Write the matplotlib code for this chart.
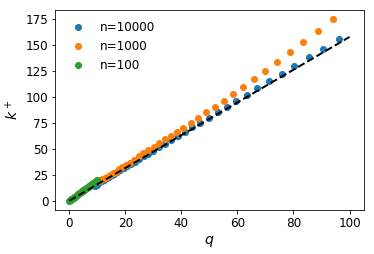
import matplotlib
matplotlib.use('Agg')
import matplotlib.pyplot as plt
import numpy as np

# data
q_10000 = [9.1, 9.7, 10.3, 11.0, 11.7, 12.5, 13.3, 14.2, 15.1, 16.0, 17.1, 18.2, 19.4, 20.6,
           22.0, 23.4, 24.9, 26.5, 28.2, 30.0, 32.0, 34.1, 36.3, 38.7, 41.2, 43.9, 46.7, 49.8,
           52.9, 56.2, 59.6, 63.3, 67.1, 71.3, 75.8, 80.3, 85.4, 90.6, 96.3]
k_10000 = [14.6, 15.6, 16.6, 17.7, 18.8, 20.1, 21.4, 22.9, 24.3, 25.8, 27.5, 29.3, 31.2, 33.2,
           35.4, 37.7, 40.1, 42.7, 45.4, 48.3, 51.5, 54.9, 58.4, 62.3, 66.3, 70.7, 75.3, 80.1,
           85.3, 90.4, 96.2, 101.9, 108.3, 115.1, 122.1, 129.8, 138.1, 146.5, 155.5]

q_1000 = [11.0, 11.8, 12.6, 13.5, 14.4, 15.4, 16.5, 17.7, 18.9, 20.2, 21.6, 23.1, 24.8, 26.4,
          28.2, 30.2, 32.1, 34.0, 36.2, 38.3, 40.7, 43.3, 46.0, 48.9, 52.0, 55.1, 58.5, 62.0,
          65.8, 69.9, 74.1, 78.8, 83.5, 88.7, 94.2]
k_1000 = [19.3, 20.6, 21.8, 23.2, 24.6, 26.3, 28.1, 30.1, 32.1, 34.3, 36.7, 39.4, 42.6, 45.8,
          49.0, 52.2, 55.8, 59.0, 62.5, 66.0, 70.2, 74.8, 79.5, 85.0, 90.7, 96.4, 102.6, 109.6,
          117.0, 125.0, 133.7, 143.0, 152.6, 163.5, 175.0]

q_100 = [0.0, 0.25, 0.5, 0.75, 1.0, 1.25, 1.5, 1.75, 2.0, 2.25, 2.5, 2.75, 3.0, 3.25, 3.5,
         3.75, 4.0, 4.25, 4.5, 4.75, 5.0, 5.25, 5.5, 5.75, 6.0, 6.25, 6.5, 6.75, 7.0, 7.25,
         7.5, 7.75, 8.0, 8.25, 8.5, 8.75, 9.0, 9.25, 9.5, 9.75, 10.0]
k_100 = [0.0, 0.5, 1.0, 1.5, 2.0, 2.5, 3.0, 3.5, 4.0, 4.5, 5.0, 5.5, 6.0, 6.5, 7.0,
         7.5, 8.0, 8.5, 9.0, 9.5, 10.0, 10.5, 11.0, 11.5, 12.0, 12.5, 13.0, 13.5, 14.0, 14.5,
         15.0, 15.5, 16.0, 16.5, 17.0, 17.5, 18.0, 18.5, 19.0, 19.5, 20.0]

q_line = [0, 100]
k_line = [0, 157.7]

fig = plt.figure(figsize=(374 / 72, 254 / 72), dpi=72)
ax = fig.add_axes([0.148, 0.174, 0.824, 0.787])

ax.plot(q_10000, k_10000, 'o', markersize=6, label='n=10000')
ax.plot(q_1000, k_1000, 'o', markersize=6, label='n=1000')
ax.plot(q_100, k_100, 'o', markersize=6, label='n=100')
ax.plot(q_line, k_line, 'k--', linewidth=2)

ax.set_xticks([0, 20, 40, 60, 80, 100])
ax.set_yticks([0, 25, 50, 75, 100, 125, 150, 175])
ax.tick_params(labelsize=12)
ax.set_xlabel('$q$', fontsize=14)
ax.set_ylabel('$k^+$', fontsize=14)
ax.legend(fontsize=12, frameon=False, loc='upper left', numpoints=1)

plt.savefig('out.png', dpi=72)
plt.close()
